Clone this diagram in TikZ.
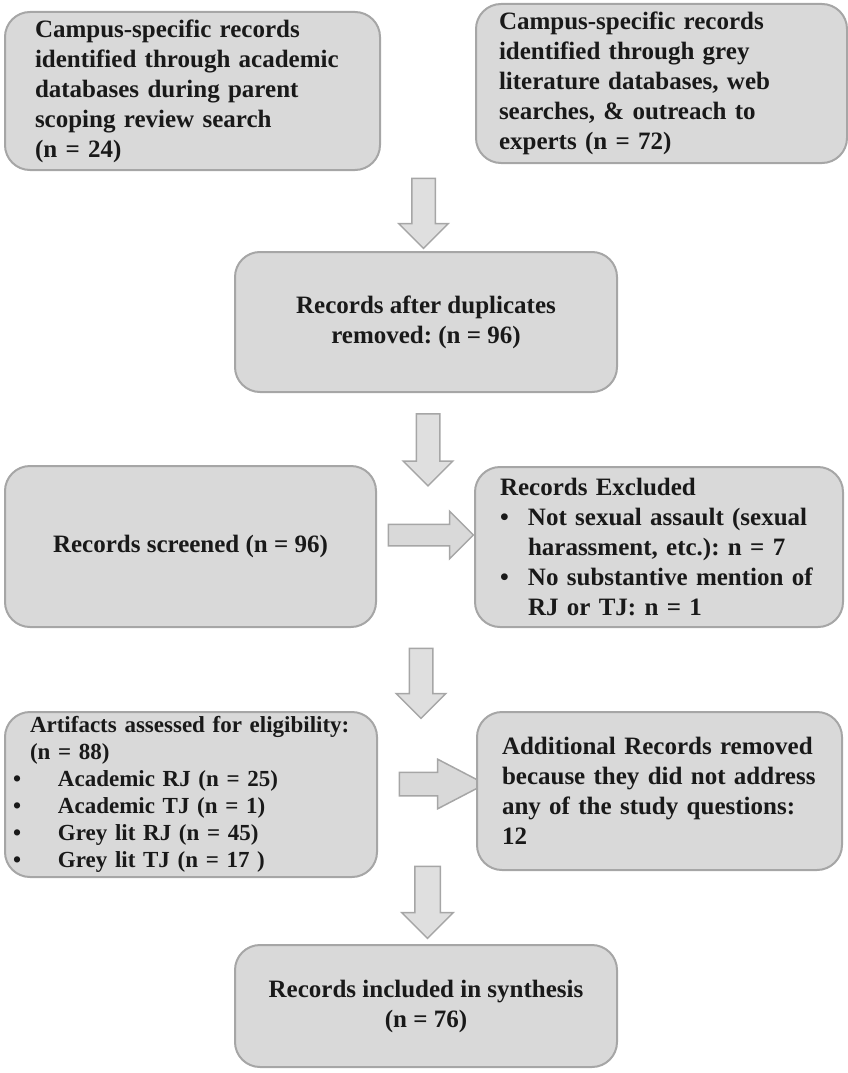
\documentclass[tikz,border=0pt]{standalone}
\usepackage{fontspec}
\setmainfont{Liberation Serif}
\usepackage{xcolor}
\usetikzlibrary{shapes.arrows}
\definecolor{boxfill}{HTML}{D9D9D9}
\definecolor{boxline}{HTML}{A6A6A6}
\setlength{\parindent}{0pt}
\frenchspacing
\newcommand{\bitem}{\makebox[28pt][l]{\textbullet}}
\newcommand{\bcont}{\hspace*{28pt}}
\newcommand{\fbul}{\hspace*{-17pt}\makebox[45pt][l]{\textbullet}}

\begin{document}
\begin{tikzpicture}[x=1pt,y=-1pt]
  \tikzset{box style/.style = {draw=boxline, fill=boxfill, line width=2pt, rounded corners=25pt,
      inner ysep=4pt, font=\fontsize{25}{30}\selectfont\bfseries, text=black!90},
    down style/.style = {single arrow, draw=boxline, fill=boxfill!85!white, line width=1.5pt,
      rotate=-90, inner xsep=0pt, inner ysep=11pt, single arrow head extend=13pt, minimum height=70pt},
    right style/.style = {single arrow, draw=boxline, fill=boxfill, line width=1.5pt,
      inner xsep=0pt, inner ysep=10pt, single arrow head extend=13pt, minimum height=85pt}}
  \useasboundingbox (0,0) rectangle (848,1073);
  % sources
  \node[box style, align=left, text width=315pt, inner xsep=30pt, minimum width=375pt, minimum height=158pt] (src1) at (192.5,91)
    {Campus-specific records\\identified through academic\\databases during parent\\scoping review search\\(n = 24)};
  \node[box style, align=left, text width=325pt, inner xsep=23pt, minimum width=371pt, minimum height=159pt] (src2) at (661.5,83.5)
    {Campus-specific records\\identified through grey\\literature databases, web\\searches, \& outreach to\\experts (n = 72)};
  \node[down style] (a1) at (423.5,207.5) {};
  % duplicates
  \node[box style, align=center, minimum width=382pt, minimum height=140pt] (dedup) at (426,322)
    {Records after duplicates\\removed: (n = 96)};
  \node[down style, minimum height=72pt] (a2) at (428,444) {};
  % screening
  \node[box style, align=center, minimum width=371pt, minimum height=161pt] (screen) at (190.5,546.5)
    {Records screened (n = 96)};
  \node[right style] (r1) at (425.5,535) {};
  \node[box style, align=left, text width=318pt, inner xsep=25pt, minimum width=368pt, minimum height=160pt] (excl) at (659,547)
    {Records Excluded\\
     \bitem Not sexual assault (sexual\\\bcont harassment, etc.): n = 7\\
     \bitem No substantive mention of\\\bcont RJ or TJ: n = 1};
  \node[down style] (a3) at (421,677.5) {};
  % eligibility
  \node[box style, font=\fontsize{23}{27}\selectfont\bfseries, align=left, text width=322pt, inner xsep=25pt,
      minimum width=372pt, minimum height=165pt] (elig) at (191,794.5)
    {Artifacts assessed for eligibility:\\(n = 88)\\\fbul Academic RJ (n = 25)\\\fbul Academic TJ (n = 1)\\
     \fbul Grey lit RJ (n = 45)\\\fbul Grey lit TJ (n = 17 )};
  \node[right style, inner ysep=11pt, single arrow tip angle=55, minimum height=86pt] (r2) at (431,784) {};
  \node[box style, align=left, text width=315pt, inner xsep=25pt, minimum width=365pt, minimum height=158pt] (removed) at (659.5,791)
    {Additional Records removed\\because they did not address\\any of the study questions:\\12};
  \node[down style, minimum height=72pt, inner ysep=12pt] (a4) at (427.5,896) {};
  % included
  \node[box style, align=center, minimum width=382pt, minimum height=122pt] (incl) at (426,1006)
    {Records included in synthesis\\(n = 76)};
\end{tikzpicture}
\end{document}
